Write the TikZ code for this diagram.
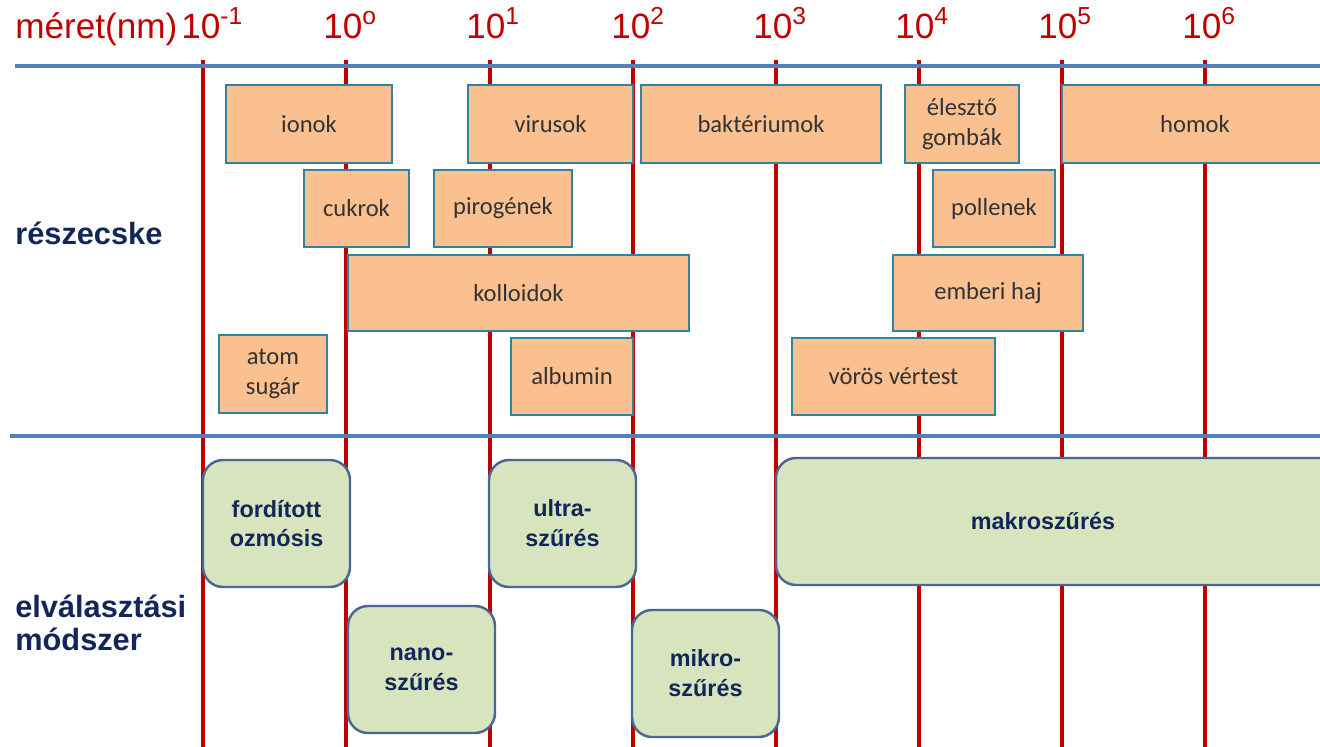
\documentclass[tikz,border=0pt]{standalone}
\usepackage{fontspec}
\setmainfont{Carlito}
\newfontfamily\arialfont{Liberation Sans}
\definecolor{vonalpiros}{HTML}{C00000}
\definecolor{vonalkek}{HTML}{4F81BD}
\definecolor{narancs}{HTML}{FAC090}
\definecolor{kekkeret}{HTML}{31849B}
\definecolor{halvanyzold}{HTML}{D7E4BD}
\definecolor{zoldkeret}{HTML}{4A6793}
\definecolor{sotetkek}{HTML}{12265A}
\tikzset{
  resz/.style={draw=kekkeret, line width=1.6pt, fill=narancs, text=black!80,
    align=center, inner sep=0pt, font=\fontsize{14}{17}\selectfont},
  modszer/.style={draw=zoldkeret, line width=1.4pt, fill=halvanyzold,
    rounded corners=0.4cm, text=sotetkek, align=center, inner sep=0pt,
    font=\arialfont\bfseries\fontsize{13.3}{17}\selectfont},
  skala/.style={anchor=base west, inner sep=0pt, text=vonalpiros,
    font=\arialfont\fontsize{20}{23}\selectfont},
  cimke/.style={anchor=west, inner sep=0pt, text=sotetkek, align=left,
    font=\arialfont\bfseries\fontsize{17.5}{19}\selectfont}
}

\begin{document}
\begin{tikzpicture}[x=0.02cm,y=-0.02cm]
  \clip (0,0) rectangle (1320,747);

  % meret skala
  \draw[vonalpiros, line width=2.8pt]
    (203,60)--(203,747) (346,60)--(346,747) (490,60)--(490,747)
    (633,60)--(633,747) (776,60)--(776,747) (919,60)--(919,747)
    (1062,60)--(1062,747) (1205,60)--(1205,747);
  \draw[vonalkek, line width=2.8pt] (15,66)--(1320,66);
  \draw[vonalkek, line width=2.8pt] (10,436)--(1320,436);

  \node[skala] (meret) at (15,38) {méret(nm)};
  \node[skala] (e1) at (181,38) {10\textsuperscript{-1}};
  \node[skala] (e2) at (323,38) {10\textsuperscript{o}};
  \node[skala] (e3) at (466,38) {10\textsuperscript{1}};
  \node[skala] (e4) at (611,38) {10\textsuperscript{2}};
  \node[skala] (e5) at (753,38) {10\textsuperscript{3}};
  \node[skala] (e6) at (895,38) {10\textsuperscript{4}};
  \node[skala] (e7) at (1038,38) {10\textsuperscript{5}};
  \node[skala] (e8) at (1182,38) {10\textsuperscript{6}};

  \node[cimke] (reszecske) at (15,233) {részecske};
  \node[cimke] (modsz) at (15,623) {elválasztási\\módszer};

  % reszecskek
  \node[resz, minimum width=3.32cm, minimum height=1.56cm] (ionok) at (309,124) {ionok};
  \node[resz, minimum width=3.30cm, minimum height=1.56cm] (virusok) at (550.5,124) {virusok};
  \node[resz, minimum width=4.80cm, minimum height=1.56cm] (bakt) at (761,124) {baktériumok};
  \node[resz, minimum width=2.28cm, minimum height=1.56cm] (eleszto) at (962,124) {élesztő\\gombák};
  \node[resz, minimum width=5.32cm, minimum height=1.56cm] (homok) at (1195,124) {homok};
  \node[resz, minimum width=2.10cm, minimum height=1.54cm] (cukrok) at (356.5,208.5) {cukrok};
  \node[resz, minimum width=2.76cm, minimum height=1.54cm] (pirogen) at (503,208.5) {pirogének};
  \node[resz, minimum width=2.44cm, minimum height=1.54cm] (pollen) at (994,208.5) {pollenek};
  \node[resz, minimum width=6.82cm, minimum height=1.52cm] (kolloid) at (518.5,293) {kolloidok};
  \node[resz, minimum width=3.80cm, minimum height=1.52cm] (haj) at (988,293) {emberi haj};
  \node[resz, minimum width=2.16cm, minimum height=1.56cm] (atom) at (273,374) {atom\\sugár};
  \node[resz, minimum width=2.44cm, minimum height=1.54cm] (albumin) at (572,376.5) {albumin};
  \node[resz, minimum width=4.06cm, minimum height=1.54cm] (verteset) at (893.5,376.5) {vörös vértest};

  % elvalasztasi modszerek
  \node[modszer, minimum width=2.94cm, minimum height=2.54cm] (ozmozis) at (276.5,523.5) {fordított\\ozmósis};
  \node[modszer, minimum width=2.94cm, minimum height=2.54cm] (ultra) at (562.5,523.5) {ultra-\\szűrés};
  \node[modszer, minimum width=11.28cm, minimum height=2.54cm] (makro) at (1058,521.5) {\hspace*{-0.6cm}makroszűrés};
  \node[modszer, minimum width=2.94cm, minimum height=2.54cm] (nano) at (421.5,669.5) {nano-\\szűrés};
  \node[modszer, minimum width=2.94cm, minimum height=2.54cm] (mikro) at (705.5,673.5) {mikro-\\szűrés};
\end{tikzpicture}
\end{document}
